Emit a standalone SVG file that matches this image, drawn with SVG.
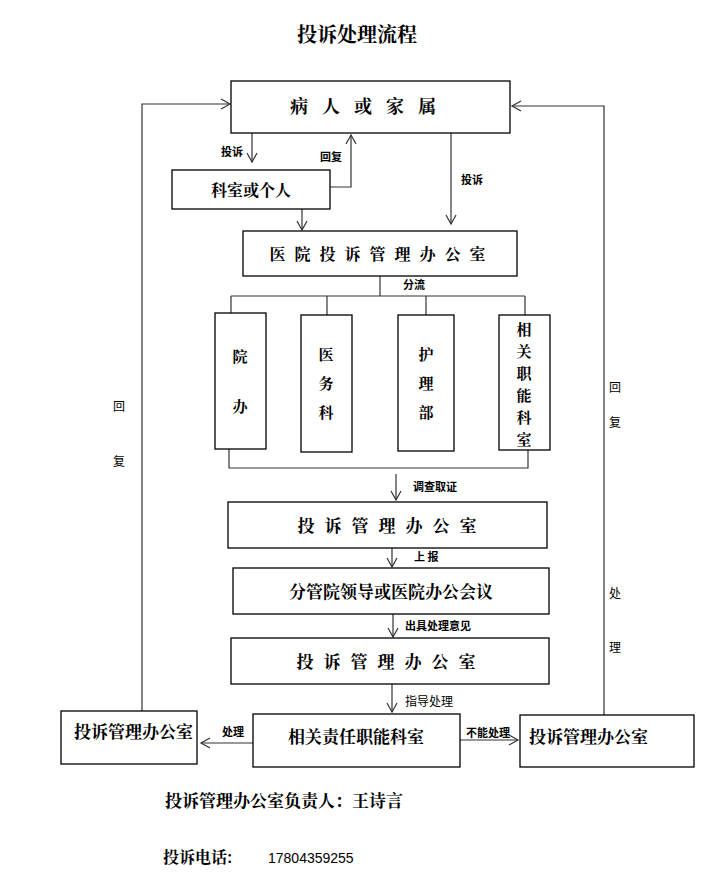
<svg xmlns="http://www.w3.org/2000/svg" width="715" height="879" viewBox="0 0 715 879">
<defs>
<style>
.b{fill:#fff;stroke:#000;stroke-width:1.3}
.l{fill:none;stroke:#333;stroke-width:1.2}
.t{font-family:"Noto Serif CJK SC","Noto Sans CJK SC",serif;fill:#000}
.s{font-family:"Noto Sans CJK SC",sans-serif;font-weight:bold;font-size:11px;fill:#000}
.v{font-family:"Noto Sans CJK SC",sans-serif;font-size:12px;fill:#000}
</style>
<marker id="a" markerWidth="12" markerHeight="12" refX="10" refY="6" orient="auto" markerUnits="userSpaceOnUse">
<polyline points="1,1 10,6 1,11" fill="none" stroke="#333" stroke-width="1.2"/>
</marker>
</defs>
<rect width="715" height="879" fill="#fff"/>
<text x="357" y="42" text-anchor="middle" class="t" font-size="20" font-weight="bold">投诉处理流程</text>

<g id="connectors">
<path class="l" d="M252,133 V162" marker-end="url(#a)"/>
<path class="l" d="M330,187 H351 V135" marker-end="url(#a)"/>
<path class="l" d="M302,209 V230" marker-end="url(#a)"/>
<path class="l" d="M451,133 V224" marker-end="url(#a)"/>
<path class="l" d="M380,276 V296 M231,296 H525 M231,296 V313 M327,296 V315 M426,296 V315 M525,296 V315"/>
<path class="l" d="M229,449 V468 H528 V450"/>
<path class="l" d="M396,474 V500" marker-end="url(#a)"/>
<path class="l" d="M392,548 V567" marker-end="url(#a)"/>
<path class="l" d="M393,614 V637" marker-end="url(#a)"/>
<path class="l" d="M392,684 V712" marker-end="url(#a)"/>
<path class="l" d="M253,743 H201" marker-end="url(#a)"/>
<path class="l" d="M460,740 H518" marker-end="url(#a)"/>
<path class="l" d="M142,711 V104 H230" marker-end="url(#a)"/>
<path class="l" d="M604,715 V106 H512" marker-end="url(#a)"/>
<text class="s" x="221" y="156">投诉</text>
<text class="s" x="320" y="161">回复</text>
<text class="s" x="461" y="184">投诉</text>
<text class="s" x="403" y="289">分流</text>
<text class="s" x="413" y="491">调查取证</text>
<text class="s" x="414" y="561">上 报</text>
<text class="s" x="405" y="630">出具处理意见</text>
<text class="v" x="405" y="706">指导处理</text>
<text class="s" x="222" y="736">处理</text>
<text class="s" x="466" y="737">不能处理</text>
<text class="v" x="113" y="411">回</text>
<text class="v" x="113" y="466">复</text>
<text class="v" x="609" y="392">回</text>
<text class="v" x="609" y="427">复</text>
<text class="v" x="609" y="598">处</text>
<text class="v" x="609" y="652">理</text>
</g>

<g id="n1"><rect class="b" x="231" y="81" width="279" height="52"/><text class="t" x="370" y="113" text-anchor="middle" font-size="18" font-weight="bold" letter-spacing="14">病人或家属</text></g>
<g id="n2"><rect class="b" x="172" y="170" width="158" height="39"/><text class="t" x="251" y="196" text-anchor="middle" font-size="16" font-weight="bold">科室或个人</text></g>
<g id="n3"><rect class="b" x="243" y="231" width="274" height="45"/><text class="t" x="382" y="260" text-anchor="middle" font-size="16" font-weight="bold" letter-spacing="9">医院投诉管理办公室</text></g>
<g id="n4"><rect class="b" x="215" y="313" width="51" height="136"/><text class="t" x="240" y="362" text-anchor="middle" font-size="15" font-weight="bold">院</text><text class="t" x="240" y="412" text-anchor="middle" font-size="15" font-weight="bold">办</text></g>
<g id="n5"><rect class="b" x="301" y="315" width="51" height="137"/><text class="t" x="326" y="360" text-anchor="middle" font-size="15" font-weight="bold">医</text><text class="t" x="326" y="389" text-anchor="middle" font-size="15" font-weight="bold">务</text><text class="t" x="326" y="418" text-anchor="middle" font-size="15" font-weight="bold">科</text></g>
<g id="n6"><rect class="b" x="398" y="315" width="56" height="136"/><text class="t" x="426" y="360" text-anchor="middle" font-size="15" font-weight="bold">护</text><text class="t" x="426" y="389" text-anchor="middle" font-size="15" font-weight="bold">理</text><text class="t" x="426" y="418" text-anchor="middle" font-size="15" font-weight="bold">部</text></g>
<g id="n7"><rect class="b" x="499" y="315" width="51" height="135"/><text class="t" x="524" y="335" text-anchor="middle" font-size="15" font-weight="bold">相</text><text class="t" x="524" y="357" text-anchor="middle" font-size="15" font-weight="bold">关</text><text class="t" x="524" y="379" text-anchor="middle" font-size="15" font-weight="bold">职</text><text class="t" x="524" y="401" text-anchor="middle" font-size="15" font-weight="bold">能</text><text class="t" x="524" y="423" text-anchor="middle" font-size="15" font-weight="bold">科</text><text class="t" x="524" y="445" text-anchor="middle" font-size="15" font-weight="bold">室</text></g>
<g id="n8"><rect class="b" x="228" y="502" width="319" height="46"/><text class="t" x="392" y="532" text-anchor="middle" font-size="17" font-weight="bold" letter-spacing="10">投诉管理办公室</text></g>
<g id="n9"><rect class="b" x="233" y="568" width="316" height="46"/><text class="t" x="391" y="598" text-anchor="middle" font-size="17" font-weight="bold">分管院领导或医院办公会议</text></g>
<g id="n10"><rect class="b" x="231" y="638" width="318" height="46"/><text class="t" x="391" y="668" text-anchor="middle" font-size="17" font-weight="bold" letter-spacing="10">投诉管理办公室</text></g>
<g id="n11"><rect class="b" x="253" y="714" width="207" height="53"/><text class="t" x="356" y="743" text-anchor="middle" font-size="17" font-weight="bold">相关责任职能科室</text></g>
<g id="n12"><rect class="b" x="61" y="711" width="136" height="53"/><text class="t" x="74" y="738" font-size="17" font-weight="bold">投诉管理办公室</text></g>
<g id="n13"><rect class="b" x="520" y="715" width="174" height="52"/><text class="t" x="529" y="743" font-size="17" font-weight="bold">投诉管理办公室</text></g>

<text class="t" x="165" y="807" font-size="17" font-weight="bold">投诉管理办公室负责人：王诗言</text>
<text class="t" x="163" y="863" font-size="16" font-weight="bold">投诉电话:</text>
<text x="268" y="863" font-family="Liberation Sans,sans-serif" font-size="14">17804359255</text>
</svg>
